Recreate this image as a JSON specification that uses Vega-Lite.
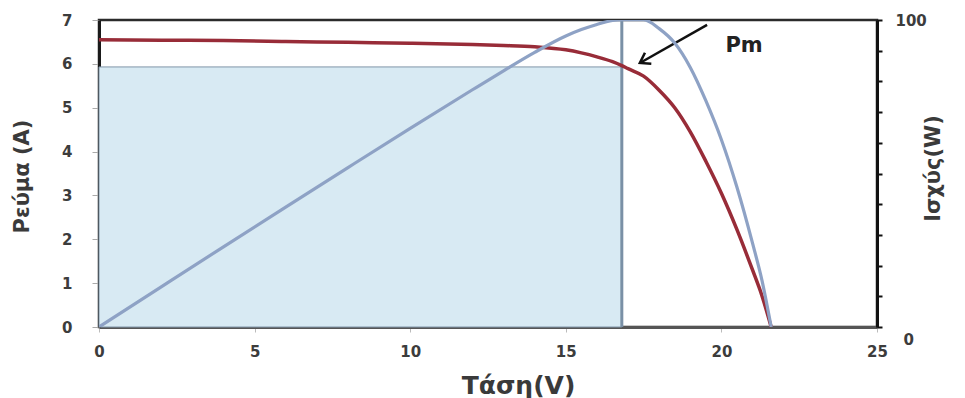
{
  "$schema": "https://vega.github.io/schema/vega-lite/v6.json",
  "width": 778,
  "height": 307,
  "autosize": {"type": "none"},
  "padding": {"left": 99, "top": 20, "right": 88, "bottom": 71},
  "background": "white",
  "config": {
    "view": {"stroke": "#2b2b2b", "strokeWidth": 2.5},
    "font": "DejaVu Sans",
    "axis": {
      "grid": false,
      "labelFont": "DejaVu Sans",
      "labelFontWeight": "bold",
      "labelColor": "#3c3c3c",
      "labelFontSize": 15,
      "titleFont": "DejaVu Sans",
      "titleFontWeight": "bold",
      "titleColor": "#3a3a3a",
      "titleFontSize": 21
    }
  },
  "datasets": {
    "iv": [
      {"V": 0, "I": 6.55, "P": 0},
      {"V": 2, "I": 6.54, "P": 13.08},
      {"V": 4, "I": 6.53, "P": 26.12},
      {"V": 6, "I": 6.51, "P": 39.06},
      {"V": 8, "I": 6.49, "P": 51.92},
      {"V": 10, "I": 6.47, "P": 64.7},
      {"V": 12, "I": 6.44, "P": 77.28},
      {"V": 13, "I": 6.42, "P": 83.46},
      {"V": 14, "I": 6.39, "P": 89.46},
      {"V": 15, "I": 6.32, "P": 94.8},
      {"V": 15.5, "I": 6.25, "P": 96.88},
      {"V": 16, "I": 6.16, "P": 98.56},
      {"V": 16.5, "I": 6.05, "P": 99.83},
      {"V": 16.8, "I": 5.96, "P": 100.13},
      {"V": 17, "I": 5.89, "P": 100.13},
      {"V": 17.5, "I": 5.72, "P": 100.1},
      {"V": 18, "I": 5.4, "P": 97.2},
      {"V": 18.5, "I": 5.0, "P": 92.5},
      {"V": 19, "I": 4.45, "P": 84.55},
      {"V": 19.5, "I": 3.78, "P": 73.71},
      {"V": 20, "I": 3.05, "P": 61.0},
      {"V": 20.5, "I": 2.22, "P": 45.51},
      {"V": 21, "I": 1.3, "P": 27.3},
      {"V": 21.3, "I": 0.72, "P": 15.34},
      {"V": 21.6, "I": 0, "P": 0}
    ],
    "mpp": [{"V0": 0, "V": 16.8, "I0": 0, "I": 5.93, "Imax": 7}],
    "arrow": [{"V1": 19.54, "I1": 6.89, "V2": 17.38, "I2": 6.02}],
    "note": [{"V": 20.73, "I": 6.41, "label": "Pm"}]
  },
  "layer": [
    {
      "layer": [
        {
          "data": {"name": "mpp"},
          "mark": {"type": "rect", "fill": "#d8eaf3", "stroke": "#8196a8", "strokeWidth": 1},
          "encoding": {
            "x": {
              "field": "V0",
              "type": "quantitative",
              "scale": {"domain": [0, 25], "nice": false, "zero": false},
              "axis": {
                "values": [0, 5, 10, 15, 20, 25],
                "labelFlush": false,
                "tickSize": 5,
                "tickColor": "#bbbbbb",
                "domainColor": "#555555",
                "domainWidth": 3,
                "labelPadding": 12,
                "title": "Τάση(V)",
                "titleFontSize": 25,
                "titleX": 419,
                "titleY": 58,
                "titleAlign": "center",
                "titleBaseline": "middle"
              }
            },
            "x2": {"field": "V"},
            "y": {
              "field": "I",
              "type": "quantitative",
              "scale": {"domain": [0, 7], "nice": false},
              "axis": {
                "values": [0, 1, 2, 3, 4, 5, 6, 7],
                "labelFlush": false,
                "tickSize": 7,
                "tickColor": "#aaaaaa",
                "domainColor": "#1a1a1a",
                "domainWidth": 3,
                "labelPadding": 20,
                "title": "Ρεύμα (A)",
                "titleX": -77,
                "titleY": 156,
                "titleAngle": 270,
                "titleAlign": "center",
                "titleBaseline": "middle"
              }
            },
            "y2": {"field": "I0"}
          }
        },
        {
          "data": {"name": "mpp"},
          "mark": {"type": "rule", "color": "#7a90a6", "strokeWidth": 3},
          "encoding": {
            "x": {"field": "V", "type": "quantitative"},
            "y": {"field": "I0", "type": "quantitative"},
            "y2": {"field": "Imax"}
          }
        },
        {
          "data": {"name": "iv"},
          "mark": {"type": "line", "color": "#982c38", "strokeWidth": 3.5, "interpolate": "monotone"},
          "encoding": {
            "x": {"field": "V", "type": "quantitative"},
            "y": {"field": "I", "type": "quantitative"}
          }
        },
        {
          "data": {"name": "arrow"},
          "mark": {"type": "rule", "color": "#111111", "strokeWidth": 2.5},
          "encoding": {
            "x": {"field": "V1", "type": "quantitative"},
            "y": {"field": "I1", "type": "quantitative"},
            "x2": {"field": "V2"},
            "y2": {"field": "I2"}
          }
        },
        {
          "data": {"name": "arrow"},
          "mark": {"type": "point", "shape": "M -0.6 0.9 L 0 0 L 0.6 0.9", "filled": false, "stroke": "#111111", "strokeWidth": 2.5, "size": 450, "angle": 240, "opacity": 1},
          "encoding": {
            "x": {"field": "V2", "type": "quantitative"},
            "y": {"field": "I2", "type": "quantitative"}
          }
        },
        {
          "data": {"name": "note"},
          "mark": {"type": "text", "fontSize": 21, "fontWeight": "bold", "color": "#222222", "font": "DejaVu Sans"},
          "encoding": {
            "x": {"field": "V", "type": "quantitative"},
            "y": {"field": "I", "type": "quantitative"},
            "text": {"field": "label"}
          }
        }
      ]
    },
    {
      "data": {"name": "iv"},
      "mark": {"type": "line", "color": "#8ea2c5", "strokeWidth": 3.2, "interpolate": "monotone", "clip": true},
      "encoding": {
        "x": {"field": "V", "type": "quantitative"},
        "y": {
          "field": "P",
          "type": "quantitative",
          "scale": {"domain": [0, 100], "nice": false},
          "axis": {
            "orient": "right",
            "values": [0, 10, 20, 30, 40, 50, 60, 70, 80, 90, 100],
            "labelExpr": "datum.value == 0 || datum.value == 100 ? datum.label : ''",
            "labelFlush": false,
            "tickSize": 5,
            "tickWidth": 2,
            "tickColor": "#111111",
            "domainColor": "#111111",
            "domainWidth": 3,
            "labelAlign": "left",
            "labelPadding": {"condition": {"test": "datum.value == 0", "value": 21}, "value": 13},
            "labelOffset": {"condition": {"test": "datum.value == 0", "value": 12}, "value": 0},
            "title": "Ισχύς(W)",
            "titleX": 56,
            "titleY": 148,
            "titleAngle": 270,
            "titleAlign": "center",
            "titleBaseline": "middle"
          }
        }
      }
    }
  ],
  "resolve": {"scale": {"y": "independent"}, "axis": {"y": "independent"}}
}
